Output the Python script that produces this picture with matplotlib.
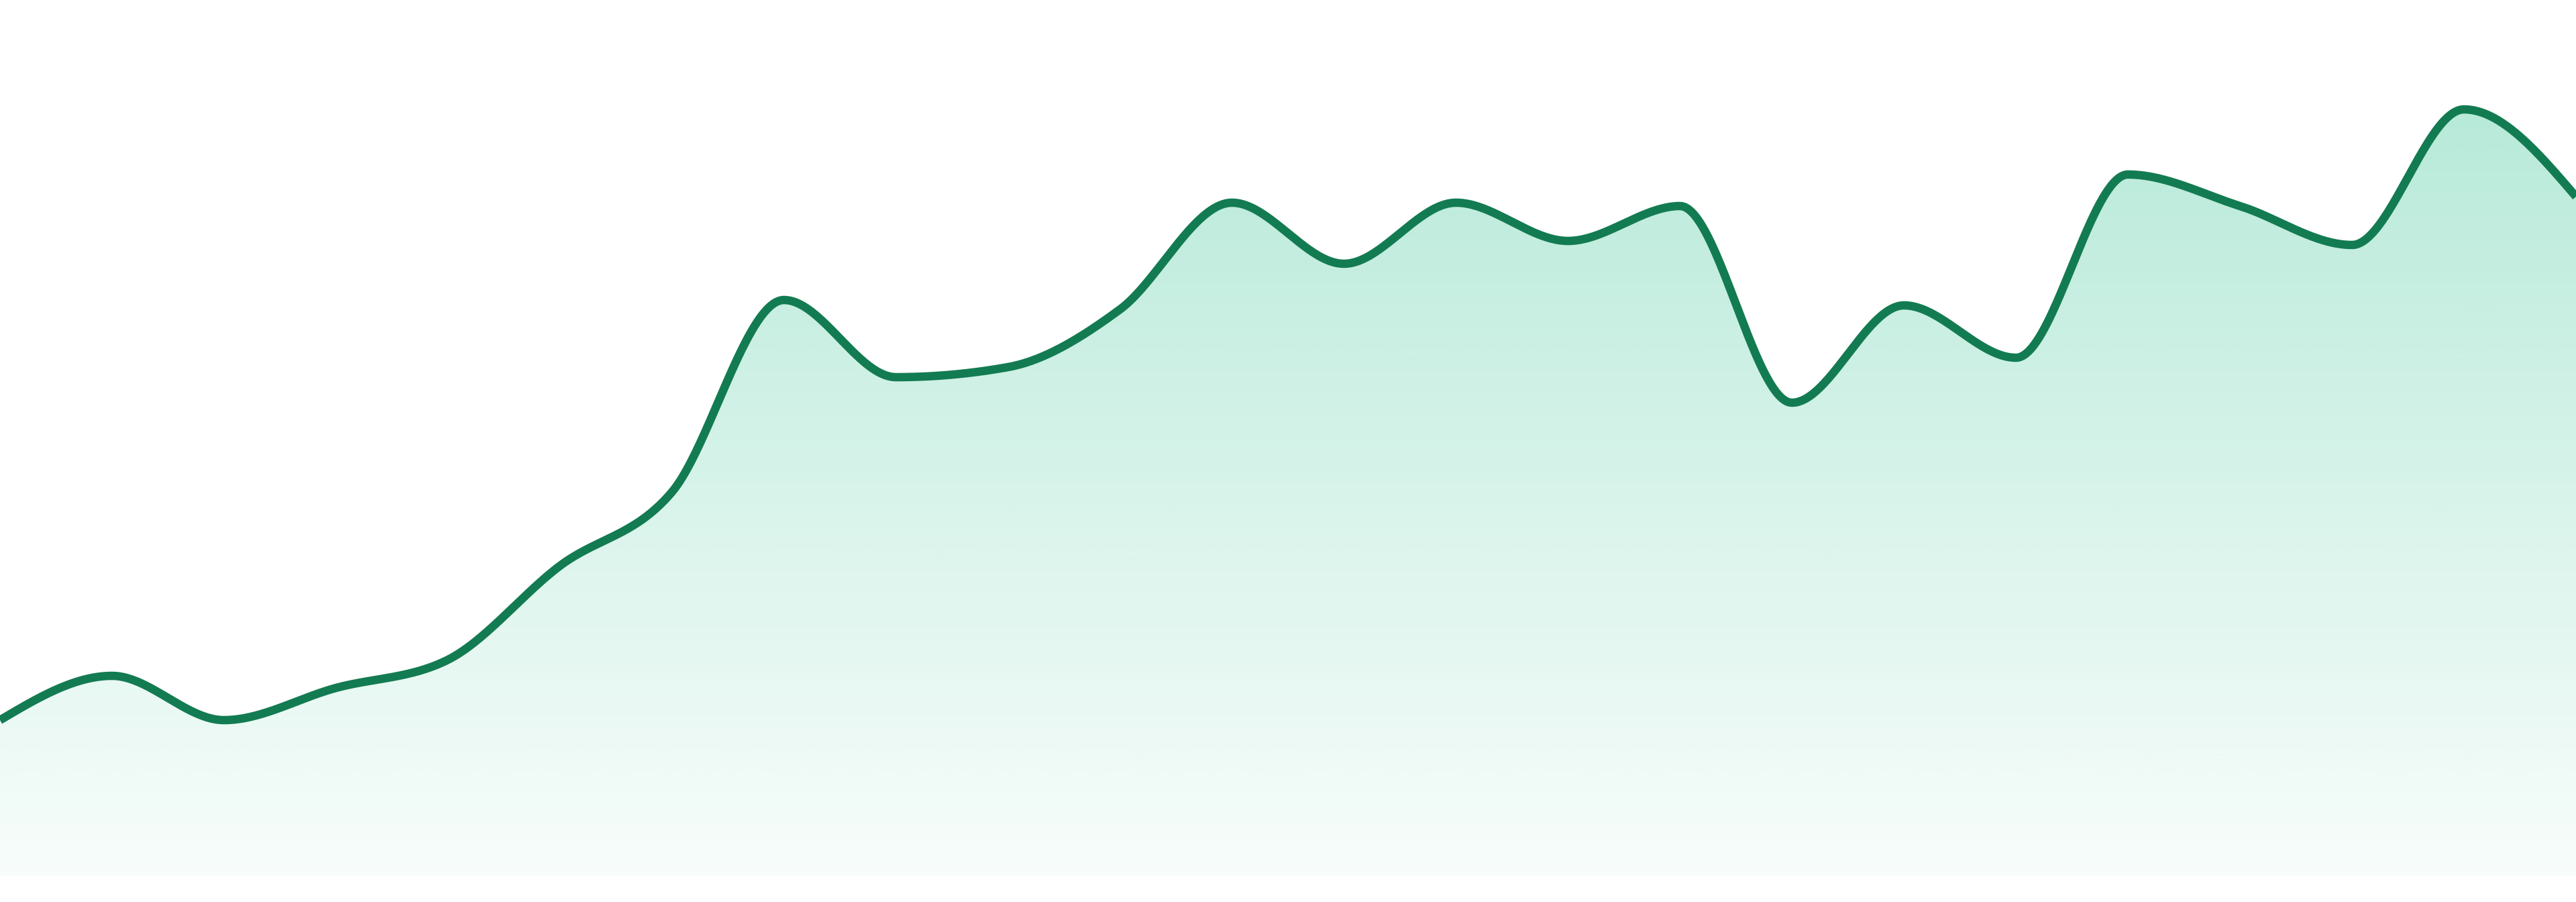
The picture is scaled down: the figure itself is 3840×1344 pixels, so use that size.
#
# Area sparkline with gradient fill
#

# Dependencies
import numpy as np
import matplotlib
matplotlib.use("Agg")
import matplotlib.pyplot as plt
from matplotlib.patches import PathPatch
from matplotlib.path import Path

# Data (arbitrary units, 0 = bottom of plot)
points = list(range(24))
values = [23.2, 29.8, 23.2, 28.0, 32.2, 46.2, 57.2, 85.8, 74.3, 75.8, 84.4, 100.3,
          91.2, 100.3, 94.6, 99.8, 70.5, 85.0, 77.2, 104.5, 99.8, 94.0, 114.2, 101.2]

lineColor = "#137b52"
fillColor = (16 / 255, 185 / 255, 129 / 255)


def monotoneSlopes(x, y):
    # Steffen monotone slopes, same as d3 curveMonotoneX
    n = len(x)
    h = np.diff(x)
    s = np.diff(y) / h
    m = np.zeros(n)
    for i in range(1, n - 1):
        p = (s[i - 1] * h[i] + s[i] * h[i - 1]) / (h[i - 1] + h[i])
        m[i] = (np.sign(s[i - 1]) + np.sign(s[i])) * min(abs(s[i - 1]), abs(s[i]), 0.5 * abs(p))
    m[0] = (3 * s[0] - m[1]) / 2
    m[-1] = (3 * s[-1] - m[-2]) / 2
    return m


def smoothCurve(x, y, steps=80):
    x = np.asarray(x, dtype=float)
    y = np.asarray(y, dtype=float)
    m = monotoneSlopes(x, y)
    xs, ys = [], []
    # Hermite segment between each pair of points
    for i in range(len(x) - 1):
        dx = x[i + 1] - x[i]
        u = np.linspace(0, 1, steps, endpoint=(i == len(x) - 2))
        h00 = 2 * u**3 - 3 * u**2 + 1
        h10 = u**3 - 2 * u**2 + u
        h01 = -2 * u**3 + 3 * u**2
        h11 = u**3 - u**2
        xs.append(x[i] + u * dx)
        ys.append(h00 * y[i] + h10 * dx * m[i] + h01 * y[i + 1] + h11 * dx * m[i + 1])
    return np.concatenate(xs), np.concatenate(ys)


fig = plt.figure(figsize=(19.2, 6.72), dpi=200)
ax = fig.add_axes([0, 39 / 1344, 1, 1305 / 1344])
ax.set_xlim(points[0], points[-1])
ax.set_ylim(0, 130.5)
ax.axis("off")

cx, cy = smoothCurve(points, values)

# Clip polygon under the curve
verts = np.column_stack([np.concatenate([cx, [cx[-1], cx[0]]]),
                         np.concatenate([cy, [0, 0]])])
clip = PathPatch(Path(verts), facecolor="none", edgecolor="none")
ax.add_patch(clip)

# Vertical gradient, stronger at the top
top = max(values)
rows = np.linspace(0, 130.5, 400)
alpha = np.clip(0.03 + 0.27 * rows / top, 0, 0.3)
grad = np.zeros((len(rows), 1, 4))
grad[:, 0, :3] = fillColor
grad[:, 0, 3] = alpha
im = ax.imshow(grad, extent=[points[0], points[-1], 0, 130.5], origin="lower",
               aspect="auto", interpolation="bilinear", zorder=1)
im.set_clip_path(clip)

ax.plot(cx, cy, color=lineColor, linewidth=4.5, solid_capstyle="butt", zorder=2)

fig.savefig("out.png", dpi=200, facecolor="white")
